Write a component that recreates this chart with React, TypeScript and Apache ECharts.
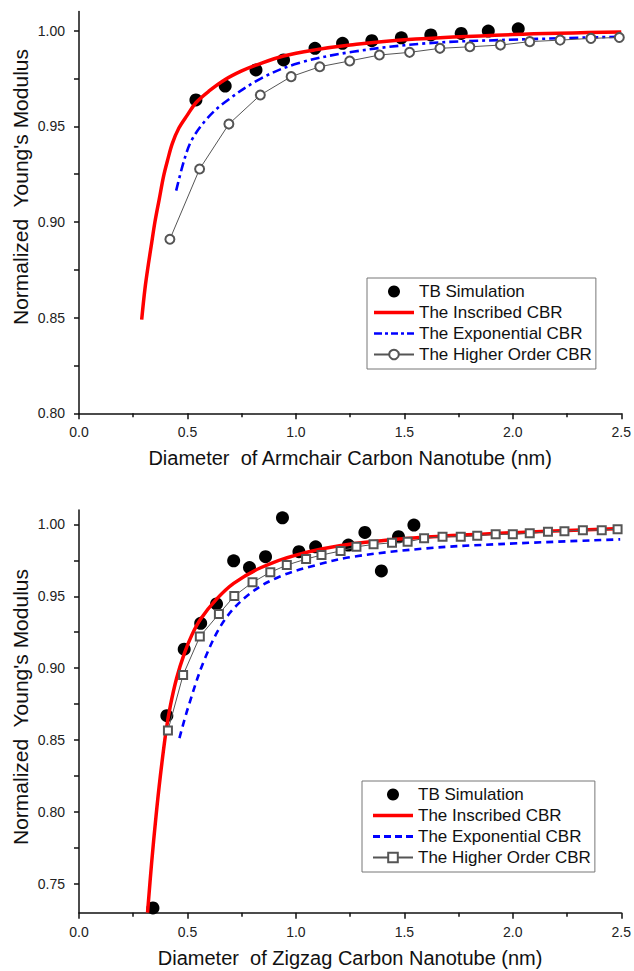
import React, { useEffect, useRef } from "react";
import * as echarts from "echarts";

// ---------- Data ----------
// Top panel: Armchair nanotubes
const armTbX = [0.539, 0.674, 0.816, 0.943, 1.088, 1.215, 1.35, 1.486, 1.622, 1.762, 1.887, 2.025];
const armTbY = [0.9638, 0.9711, 0.9795, 0.9847, 0.9908, 0.9934, 0.9948, 0.9963, 0.9978, 0.9986, 0.9998, 1.001];

const armInscribedX = [0.289, 0.304, 0.32, 0.335, 0.35, 0.37, 0.39, 0.41, 0.43, 0.46, 0.5, 0.54, 0.6, 0.674, 0.75, 0.816, 0.943, 1.088, 1.25, 1.5, 2.0, 2.5];
const armInscribedY = [0.849, 0.865, 0.878, 0.889, 0.9, 0.912, 0.924, 0.933, 0.941, 0.949, 0.956, 0.9625, 0.9685, 0.9745, 0.979, 0.982, 0.9868, 0.99, 0.9925, 0.9953, 0.998, 0.9993];

const armExpX = [0.448, 0.485, 0.52, 0.586, 0.671, 0.84, 1.01, 1.262, 1.6, 1.937, 2.495];
const armExpY = [0.9164, 0.9324, 0.9429, 0.9535, 0.9625, 0.9751, 0.983, 0.989, 0.9934, 0.9951, 0.9969];

const armHoX = [0.419, 0.556, 0.691, 0.836, 0.978, 1.11, 1.248, 1.385, 1.524, 1.664, 1.802, 1.943, 2.078, 2.218, 2.36, 2.491];
const armHoY = [0.891, 0.9277, 0.9512, 0.9664, 0.976, 0.9812, 0.9842, 0.9873, 0.9887, 0.9908, 0.9916, 0.9925, 0.9943, 0.9951, 0.996, 0.9965];

// Bottom panel: Zigzag nanotubes
const zigTbX = [0.341, 0.405, 0.485, 0.561, 0.634, 0.713, 0.786, 0.86, 0.938, 1.014, 1.091, 1.242, 1.318, 1.394, 1.473, 1.544];
const zigTbY = [0.7333, 0.867, 0.9132, 0.9312, 0.9447, 0.9747, 0.97, 0.9775, 1.0046, 0.981, 0.9844, 0.9856, 0.9944, 0.9676, 0.9914, 0.9995];

const zigInscribedX = [0.316, 0.335, 0.355, 0.375, 0.4, 0.42, 0.45, 0.485, 0.52, 0.56, 0.634, 0.713, 0.84, 1.008, 1.262, 1.6, 1.938, 2.5];
const zigInscribedY = [0.73, 0.765, 0.797, 0.825, 0.855, 0.873, 0.893, 0.91, 0.923, 0.934, 0.948, 0.959, 0.97, 0.979, 0.9865, 0.9912, 0.9938, 0.9972];

const zigExpX = [0.463, 0.502, 0.578, 0.671, 0.789, 0.924, 1.093, 1.262, 1.6, 1.938, 2.495];
const zigExpY = [0.8514, 0.8722, 0.9058, 0.9335, 0.952, 0.9636, 0.9717, 0.9775, 0.9833, 0.9863, 0.9896];

const zigHoX = [0.41, 0.48, 0.557, 0.645, 0.716, 0.8, 0.882, 0.958, 1.047, 1.118, 1.206, 1.279, 1.358, 1.443, 1.515, 1.591, 1.676, 1.76, 1.836, 1.921, 2.0, 2.078, 2.162, 2.238, 2.323, 2.41, 2.483];
const zigHoY = [0.8567, 0.8953, 0.922, 0.9377, 0.9502, 0.9597, 0.9667, 0.9717, 0.9759, 0.9787, 0.9815, 0.9844, 0.9861, 0.9872, 0.9879, 0.9903, 0.9914, 0.9914, 0.9921, 0.9931, 0.9931, 0.9938, 0.9949, 0.9953, 0.996, 0.996, 0.9967];

// Axes
const xAxisNames = ["Diameter  of Armchair Carbon Nanotube (nm)", "Diameter  of Zigzag Carbon Nanotube (nm)"];
const yAxisName = "Normalized  Young's Modulus";
const topYLabels = [0.8, 0.85, 0.9, 0.95, 1.0];
const topYTicks = [0.8, 0.825, 0.85, 0.875, 0.9, 0.925, 0.95, 0.975, 1.0];
const bottomYLabels = [0.75, 0.8, 0.85, 0.9, 0.95, 1.0];
const bottomYTicks = [0.75, 0.775, 0.8, 0.825, 0.85, 0.875, 0.9, 0.925, 0.95, 0.975, 1.0];
const legendNames = ["TB Simulation", "The Inscribed CBR", "The Exponential CBR", "The Higher Order CBR"];

const zip = (xs: number[], ys: number[]) => xs.map((x, i) => [x, ys[i]]);

const FONT = '"Liberation Sans", Arial, Helvetica, sans-serif';
const INK = "#111";

const ICON_SOLID = "path://M0,0h40v3.5h-40z";
const ICON_DASHDOT = "path://M0,0h8v2.6h-8zM11,0h3v2.6h-3zM17,0h7v2.6h-7zM27,0h3v2.6h-3zM33,0h7v2.6h-7z";
const ICON_DASH = "path://M0,0h7v3h-7zM11,0h7v3h-7zM22,0h7v3h-7zM33,0h7v3h-7z";

export default function App() {
  const ref = useRef<HTMLDivElement>(null);

  useEffect(() => {
    if (!ref.current) return;
    const chart = echarts.init(ref.current, null, { renderer: "svg" });

    const xAxis = [0, 1].map((i) => ({
      gridIndex: i,
      type: "value",
      min: 0,
      max: 2.5,
      interval: 0.5,
      name: xAxisNames[i],
      nameLocation: "middle",
      nameGap: 35,
      nameTextStyle: { fontSize: 20, color: INK, fontFamily: FONT },
      axisLine: { onZero: false, lineStyle: { color: INK, width: 1.5 } },
      axisTick: { length: 6, lineStyle: { color: INK, width: 1.5 } },
      minorTick: { show: true, splitNumber: 2, length: 4, lineStyle: { color: INK, width: 1.5 } },
      splitLine: { show: false },
      minorSplitLine: { show: false },
      axisLabel: {
        fontSize: 14,
        color: "#222",
        margin: 12,
        fontFamily: FONT,
        formatter: (v: number) => v.toFixed(1),
      },
    }));

    const mkY = (gi: number, min: number, max: number, labels: number[], ticks: number[]) => ({
      gridIndex: gi,
      type: "value",
      min,
      max,
      axisLine: { onZero: false, lineStyle: { color: INK, width: 1.5 } },
      axisTick: { length: 5, customValues: ticks, lineStyle: { color: INK, width: 1.5 } },
      splitLine: { show: false },
      axisLabel: {
        fontSize: 14,
        color: "#222",
        margin: 14,
        fontFamily: FONT,
        customValues: labels,
        formatter: (v: number) => v.toFixed(2),
      },
    });

    const mkSeries = (gi: number, suffix: string, tb: number[][], ins: number[][], exp: number[][], ho: number[][], expDash: number[], hoSymbol: string, hoSize: number) => [
      {
        name: legendNames[0] + suffix,
        type: "scatter",
        xAxisIndex: gi,
        yAxisIndex: gi,
        data: tb,
        symbol: "circle",
        symbolSize: 13,
        itemStyle: { color: "#000", opacity: 1 },
        z: 2,
      },
      {
        name: legendNames[1] + suffix,
        type: "line",
        xAxisIndex: gi,
        yAxisIndex: gi,
        data: ins,
        symbol: "none",
        smooth: 0.35,
        lineStyle: { color: "#ff0000", width: 3.5 },
        itemStyle: { color: "#ff0000" },
        z: 3,
      },
      {
        name: legendNames[2] + suffix,
        type: "line",
        xAxisIndex: gi,
        yAxisIndex: gi,
        data: exp,
        symbol: "none",
        smooth: 0.35,
        lineStyle: { color: "#0000ff", width: 2.6, type: expDash },
        itemStyle: { color: "#0000ff" },
        z: 3,
      },
      {
        name: legendNames[3] + suffix,
        type: "line",
        xAxisIndex: gi,
        yAxisIndex: gi,
        data: ho,
        symbol: hoSymbol,
        symbolSize: hoSize,
        showAllSymbol: true,
        lineStyle: { color: "#555", width: 1 },
        itemStyle: { color: "#555", borderWidth: 1.3 },
        z: 4,
      },
    ];

    const legendBase = {
      orient: "vertical",
      itemWidth: 40,
      itemHeight: 12,
      itemGap: 4,
      borderColor: "#777",
      borderWidth: 1,
      selectedMode: false,
      textStyle: { fontSize: 17, color: INK, fontFamily: FONT },
      formatter: (name: string) => name.split("|")[0],
    };

    const legendItems = (suffix: string, expIcon: string) => [
      { name: legendNames[0] + suffix, icon: "circle" },
      { name: legendNames[1] + suffix, icon: ICON_SOLID },
      { name: legendNames[2] + suffix, icon: expIcon },
      { name: legendNames[3] + suffix },
    ];

    const yNameText = (y: number) => ({
      type: "text",
      x: 20,
      y,
      rotation: Math.PI / 2,
      style: {
        text: yAxisName,
        fontSize: 21,
        fontFamily: FONT,
        fill: INK,
        align: "center",
        verticalAlign: "middle",
        textAlign: "center",
        textVerticalAlign: "middle",
      },
    });

    const option = {
      animation: false,
      textStyle: { fontFamily: FONT },
      grid: [
        { left: 79, right: 12, top: 11.6, height: 401.7 },
        { left: 79, right: 12, top: 510, height: 402.7 },
      ],
      xAxis,
      yAxis: [mkY(0, 0.8, 1.01, topYLabels, topYTicks), mkY(1, 0.73, 1.01, bottomYLabels, bottomYTicks)],
      legend: [
        { ...legendBase, data: legendItems("", ICON_DASHDOT), left: 367, top: 278, padding: [5, 4, 6, 6] },
        { ...legendBase, data: legendItems("|z", ICON_DASH), left: 362, top: 781, padding: [5, 4, 6, 10] },
      ],
      graphic: [yNameText(187), yNameText(707)],
      series: [
        ...mkSeries(0, "", zip(armTbX, armTbY), zip(armInscribedX, armInscribedY), zip(armExpX, armExpY), zip(armHoX, armHoY), [9, 4, 3, 4], "emptyCircle", 9),
        ...mkSeries(1, "|z", zip(zigTbX, zigTbY), zip(zigInscribedX, zigInscribedY), zip(zigExpX, zigExpY), zip(zigHoX, zigHoY), [7, 5], "emptyRect", 8),
      ],
    };

    chart.setOption(option as any);
    return () => chart.dispose();
  }, []);

  return <div ref={ref} style={{ position: "absolute", left: 0, top: 0, width: 634, height: 971, background: "#fff" }} />;
}
